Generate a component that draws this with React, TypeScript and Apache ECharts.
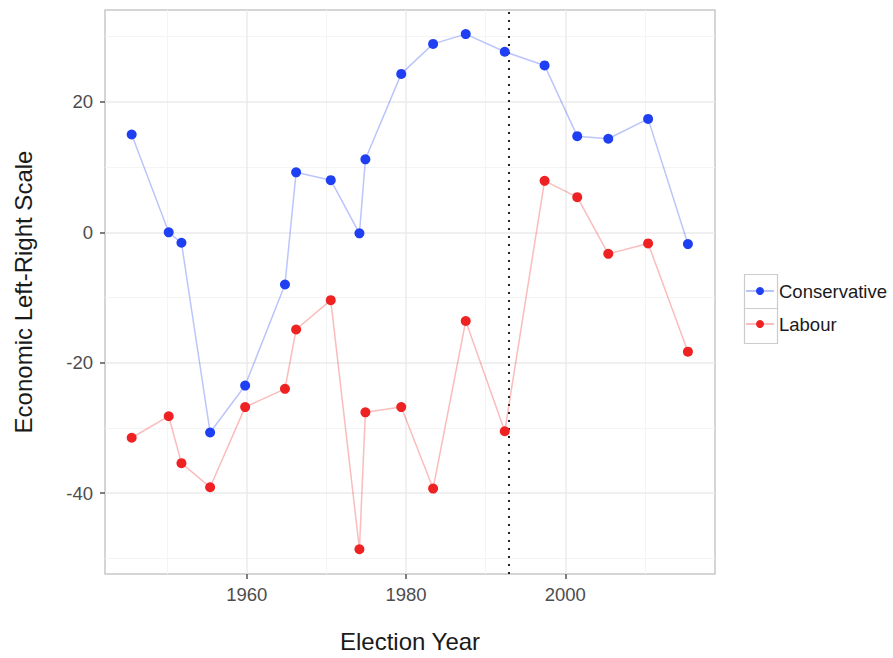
import React, { useEffect, useRef } from "react";
import * as echarts from "echarts";

const years = [1945.55, 1950.2, 1951.8, 1955.4, 1959.8, 1964.8, 1966.2, 1970.55, 1974.15, 1974.9, 1979.4, 1983.4, 1987.5, 1992.4, 1997.4, 2001.5, 2005.4, 2010.4, 2015.4];
const conservative = [15.0, 0.0, -1.6, -30.7, -23.5, -8.0, 9.2, 8.0, -0.15, 11.2, 24.3, 28.9, 30.4, 27.7, 25.6, 14.75, 14.35, 17.4, -1.8];
const labour = [-31.5, -28.2, -35.4, -39.1, -26.8, -24.0, -14.9, -10.4, -48.6, -27.6, -26.8, -39.3, -13.6, -30.5, 7.9, 5.4, -3.3, -1.7, -18.3];
const xTicks = [1960, 1980, 2000];
const xMinor = [1950, 1970, 1990, 2010];
const yTicks = [-40, -20, 0, 20];
const yMinor = [-50, -30, -10, 10, 30];
const dividerYear = 1992.85;

const FONT = "'Liberation Sans', Arial, Helvetica, sans-serif";

export default function App() {
  const ref = useRef<HTMLDivElement>(null);
  useEffect(() => {
    if (!ref.current) return;
    const chart = echarts.init(ref.current, undefined, { renderer: "svg" });
    const major = { color: "#ebebeb", width: 1.5, type: "solid" as const };
    const minor = { color: "#f4f4f4", width: 1, type: "solid" as const };
    const gridLines = [
      ...xMinor.map((v) => ({ xAxis: v, lineStyle: minor })),
      ...yMinor.map((v) => ({ yAxis: v, lineStyle: minor })),
      ...xTicks.map((v) => ({ xAxis: v, lineStyle: major })),
      ...yTicks.map((v) => ({ yAxis: v, lineStyle: major })),
    ];
    chart.setOption({
      animation: false,
      backgroundColor: "#ffffff",
      textStyle: { fontFamily: FONT },
      grid: {
        left: 105,
        right: 178,
        top: 10,
        bottom: 81,
        show: true,
        borderColor: "#c8c8c8",
        borderWidth: 1.5,
        backgroundColor: "#ffffff",
      },
      xAxis: {
        type: "value",
        min: 1942.2,
        max: 2018.8,
        name: "Election Year",
        nameLocation: "middle",
        nameGap: 55,
        nameTextStyle: { fontSize: 24, color: "#1a1a1a", fontFamily: FONT },
        axisLine: { show: false, onZero: false },
        splitLine: { show: false },
        axisTick: { show: true, customValues: xTicks, length: 5, lineStyle: { color: "#555", width: 1.5 } },
        axisLabel: {
          customValues: xTicks,
          fontSize: 18.5,
          color: "#4d4d4d",
          margin: 11,
          fontFamily: FONT,
          formatter: (v: number) => String(v),
        },
      },
      yAxis: {
        type: "value",
        min: -52.4,
        max: 34.1,
        name: "Economic Left-Right Scale",
        nameLocation: "middle",
        nameGap: 70,
        nameTextStyle: { fontSize: 24, color: "#1a1a1a", fontFamily: FONT },
        axisLine: { show: false, onZero: false },
        splitLine: { show: false },
        axisTick: { show: true, customValues: yTicks, length: 5, lineStyle: { color: "#555", width: 1.5 } },
        axisLabel: {
          customValues: yTicks,
          fontSize: 18.5,
          color: "#4d4d4d",
          margin: 12,
          fontFamily: FONT,
          formatter: (v: number) => String(v),
        },
      },
      legend: {
        orient: "vertical",
        left: 740,
        top: 276,
        itemWidth: 28,
        itemHeight: 10,
        itemGap: 13,
        textStyle: { fontSize: 18.5, color: "#1a1a1a", lineHeight: 20, fontFamily: FONT },
        data: ["Conservative", "Labour"],
      },
      graphic: [
        { type: "rect", left: 742, top: 272, shape: { width: 33, height: 34 }, style: { fill: "none", stroke: "#cccccc", lineWidth: 1.2 }, z: -1 },
        { type: "rect", left: 742, top: 306, shape: { width: 33, height: 35 }, style: { fill: "none", stroke: "#cccccc", lineWidth: 1.2 }, z: -1 },
      ],
      series: [
        {
          name: "grid",
          type: "line",
          data: [],
          z: 0,
          silent: true,
          markLine: { silent: true, z: 0, symbol: "none", label: { show: false }, animation: false, data: gridLines },
        },
        {
          name: "divider",
          type: "line",
          data: [],
          z: 1,
          silent: true,
          markLine: {
            silent: true,
            z: 1,
            symbol: "none",
            label: { show: false },
            animation: false,
            data: [{ xAxis: dividerYear, lineStyle: { color: "#222", width: 2, type: [2, 6] } }],
          },
        },
        {
          name: "Conservative",
          type: "line",
          z: 3,
          data: years.map((y, i) => [y, conservative[i]]),
          symbol: "circle",
          symbolSize: 10,
          itemStyle: { color: "#1f3ff2" },
          lineStyle: { color: "rgba(31,63,242,0.3)", width: 1.5 },
        },
        {
          name: "Labour",
          type: "line",
          z: 3,
          data: years.map((y, i) => [y, labour[i]]),
          symbol: "circle",
          symbolSize: 10,
          itemStyle: { color: "#ee2222" },
          lineStyle: { color: "rgba(238,34,34,0.3)", width: 1.5 },
        },
      ],
    });
    return () => chart.dispose();
  }, []);
  return <div ref={ref} style={{ position: "fixed", left: 0, top: 0, width: 893, height: 658 }} />;
}
